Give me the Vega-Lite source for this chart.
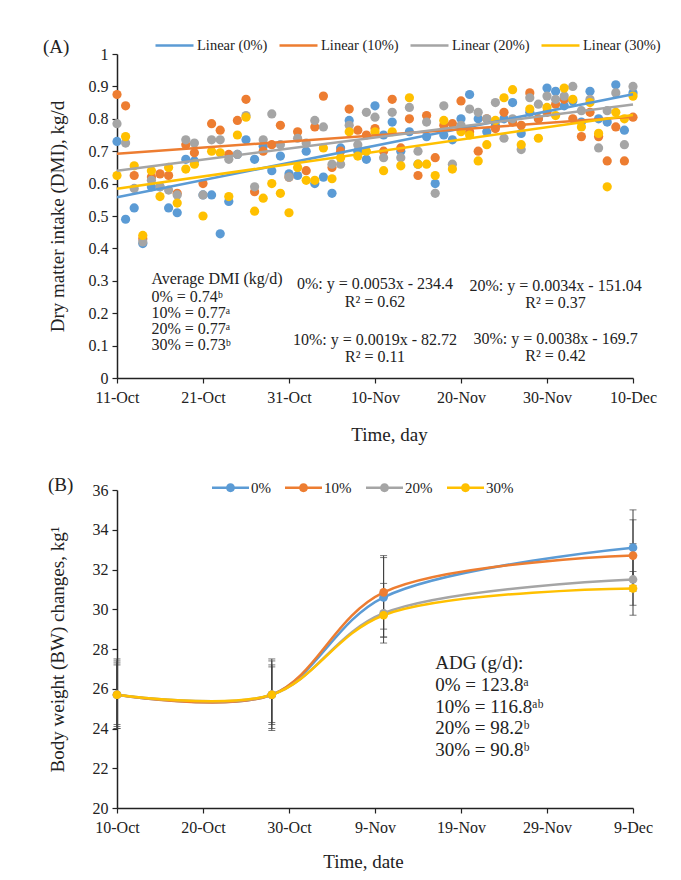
{
  "$schema": "https://vega.github.io/schema/vega-lite/v6.json",
  "background": "white",
  "padding": {"left": 43, "top": 25, "right": 10, "bottom": 5},
  "spacing": 25,
  "config": {
    "font": "Liberation Serif",
    "view": {"stroke": null},
    "axis": {"domainColor": "#222", "domainWidth": 1.5, "tickColor": "#222", "tickWidth": 1.2, "tickSize": 5, "labelFont": "Liberation Serif", "labelFontSize": 16, "labelColor": "#222", "titleFont": "Liberation Serif", "titleFontSize": 19, "titleFontWeight": "normal", "titleColor": "#222", "grid": false, "labelFlush": false},
    "legend": {"labelFont": "Liberation Serif", "labelColor": "#222"},
    "title": {"font": "Liberation Serif", "fontWeight": "normal", "fontSize": 19, "color": "#222"},
    "text": {"font": "Liberation Serif", "color": "#222"}
  },
  "resolve": {"scale": {"color": "independent", "fill": "independent", "stroke": "independent"}, "legend": {"color": "independent", "fill": "independent", "stroke": "independent"}},
  "datasets": {
    "dmi": [
      {"date":"2020-10-11","group":"0%","dmi":0.73},{"date":"2020-10-12","group":"0%","dmi":0.49},{"date":"2020-10-13","group":"0%","dmi":0.525},{"date":"2020-10-14","group":"0%","dmi":0.415},{"date":"2020-10-15","group":"0%","dmi":0.59},{"date":"2020-10-16","group":"0%","dmi":0.59},{"date":"2020-10-17","group":"0%","dmi":0.525},{"date":"2020-10-18","group":"0%","dmi":0.51},{"date":"2020-10-19","group":"0%","dmi":0.675},{"date":"2020-10-20","group":"0%","dmi":0.67},
      {"date":"2020-10-21","group":"0%","dmi":0.565},{"date":"2020-10-22","group":"0%","dmi":0.565},{"date":"2020-10-23","group":"0%","dmi":0.445},{"date":"2020-10-24","group":"0%","dmi":0.545},{"date":"2020-10-25","group":"0%","dmi":0.69},{"date":"2020-10-26","group":"0%","dmi":0.735},{"date":"2020-10-27","group":"0%","dmi":0.675},{"date":"2020-10-28","group":"0%","dmi":0.715},{"date":"2020-10-29","group":"0%","dmi":0.64},{"date":"2020-10-30","group":"0%","dmi":0.685},
      {"date":"2020-10-31","group":"0%","dmi":0.63},{"date":"2020-11-01","group":"0%","dmi":0.625},{"date":"2020-11-02","group":"0%","dmi":0.7},{"date":"2020-11-03","group":"0%","dmi":0.6},{"date":"2020-11-04","group":"0%","dmi":0.62},{"date":"2020-11-05","group":"0%","dmi":0.57},{"date":"2020-11-06","group":"0%","dmi":0.71},{"date":"2020-11-07","group":"0%","dmi":0.795},{"date":"2020-11-08","group":"0%","dmi":0.7},{"date":"2020-11-09","group":"0%","dmi":0.675},
      {"date":"2020-11-10","group":"0%","dmi":0.84},{"date":"2020-11-11","group":"0%","dmi":0.75},{"date":"2020-11-12","group":"0%","dmi":0.79},{"date":"2020-11-13","group":"0%","dmi":0.7},{"date":"2020-11-14","group":"0%","dmi":0.76},{"date":"2020-11-15","group":"0%","dmi":0.66},{"date":"2020-11-16","group":"0%","dmi":0.745},{"date":"2020-11-17","group":"0%","dmi":0.6},{"date":"2020-11-18","group":"0%","dmi":0.75},{"date":"2020-11-19","group":"0%","dmi":0.735},
      {"date":"2020-11-20","group":"0%","dmi":0.8},{"date":"2020-11-21","group":"0%","dmi":0.875},{"date":"2020-11-22","group":"0%","dmi":0.8},{"date":"2020-11-23","group":"0%","dmi":0.76},{"date":"2020-11-24","group":"0%","dmi":0.78},{"date":"2020-11-25","group":"0%","dmi":0.8},{"date":"2020-11-26","group":"0%","dmi":0.85},{"date":"2020-11-27","group":"0%","dmi":0.755},{"date":"2020-11-28","group":"0%","dmi":0.82},{"date":"2020-11-29","group":"0%","dmi":0.8},
      {"date":"2020-11-30","group":"0%","dmi":0.895},{"date":"2020-12-01","group":"0%","dmi":0.885},{"date":"2020-12-02","group":"0%","dmi":0.84},{"date":"2020-12-03","group":"0%","dmi":0.855},{"date":"2020-12-04","group":"0%","dmi":0.79},{"date":"2020-12-05","group":"0%","dmi":0.885},{"date":"2020-12-06","group":"0%","dmi":0.8},{"date":"2020-12-07","group":"0%","dmi":0.79},{"date":"2020-12-08","group":"0%","dmi":0.905},{"date":"2020-12-09","group":"0%","dmi":0.765},{"date":"2020-12-10","group":"0%","dmi":0.88},

      {"date":"2020-10-11","group":"10%","dmi":0.875},{"date":"2020-10-12","group":"10%","dmi":0.84},{"date":"2020-10-13","group":"10%","dmi":0.625},{"date":"2020-10-14","group":"10%","dmi":0.43},{"date":"2020-10-15","group":"10%","dmi":0.62},{"date":"2020-10-16","group":"10%","dmi":0.63},{"date":"2020-10-17","group":"10%","dmi":0.625},{"date":"2020-10-18","group":"10%","dmi":0.57},{"date":"2020-10-19","group":"10%","dmi":0.72},{"date":"2020-10-20","group":"10%","dmi":0.695},
      {"date":"2020-10-21","group":"10%","dmi":0.6},{"date":"2020-10-22","group":"10%","dmi":0.785},{"date":"2020-10-23","group":"10%","dmi":0.765},{"date":"2020-10-24","group":"10%","dmi":0.69},{"date":"2020-10-25","group":"10%","dmi":0.795},{"date":"2020-10-26","group":"10%","dmi":0.86},{"date":"2020-10-27","group":"10%","dmi":0.575},{"date":"2020-10-28","group":"10%","dmi":0.7},{"date":"2020-10-29","group":"10%","dmi":0.72},{"date":"2020-10-30","group":"10%","dmi":0.78},
      {"date":"2020-10-31","group":"10%","dmi":0.62},{"date":"2020-11-01","group":"10%","dmi":0.76},{"date":"2020-11-02","group":"10%","dmi":0.64},{"date":"2020-11-03","group":"10%","dmi":0.775},{"date":"2020-11-04","group":"10%","dmi":0.87},{"date":"2020-11-05","group":"10%","dmi":0.65},{"date":"2020-11-06","group":"10%","dmi":0.7},{"date":"2020-11-07","group":"10%","dmi":0.83},{"date":"2020-11-08","group":"10%","dmi":0.765},{"date":"2020-11-09","group":"10%","dmi":0.75},
      {"date":"2020-11-10","group":"10%","dmi":0.77},{"date":"2020-11-11","group":"10%","dmi":0.7},{"date":"2020-11-12","group":"10%","dmi":0.86},{"date":"2020-11-13","group":"10%","dmi":0.71},{"date":"2020-11-14","group":"10%","dmi":0.8},{"date":"2020-11-15","group":"10%","dmi":0.625},{"date":"2020-11-16","group":"10%","dmi":0.81},{"date":"2020-11-17","group":"10%","dmi":0.68},{"date":"2020-11-18","group":"10%","dmi":0.78},{"date":"2020-11-19","group":"10%","dmi":0.785},
      {"date":"2020-11-20","group":"10%","dmi":0.855},{"date":"2020-11-21","group":"10%","dmi":0.76},{"date":"2020-11-22","group":"10%","dmi":0.7},{"date":"2020-11-23","group":"10%","dmi":0.8},{"date":"2020-11-24","group":"10%","dmi":0.77},{"date":"2020-11-25","group":"10%","dmi":0.82},{"date":"2020-11-26","group":"10%","dmi":0.79},{"date":"2020-11-27","group":"10%","dmi":0.78},{"date":"2020-11-28","group":"10%","dmi":0.88},{"date":"2020-11-29","group":"10%","dmi":0.8},
      {"date":"2020-11-30","group":"10%","dmi":0.82},{"date":"2020-12-01","group":"10%","dmi":0.845},{"date":"2020-12-02","group":"10%","dmi":0.86},{"date":"2020-12-03","group":"10%","dmi":0.8},{"date":"2020-12-04","group":"10%","dmi":0.745},{"date":"2020-12-05","group":"10%","dmi":0.82},{"date":"2020-12-06","group":"10%","dmi":0.745},{"date":"2020-12-07","group":"10%","dmi":0.67},{"date":"2020-12-08","group":"10%","dmi":0.775},{"date":"2020-12-09","group":"10%","dmi":0.67},{"date":"2020-12-10","group":"10%","dmi":0.805},

      {"date":"2020-10-11","group":"20%","dmi":0.785},{"date":"2020-10-12","group":"20%","dmi":0.725},{"date":"2020-10-13","group":"20%","dmi":0.585},{"date":"2020-10-14","group":"20%","dmi":0.42},{"date":"2020-10-15","group":"20%","dmi":0.61},{"date":"2020-10-16","group":"20%","dmi":0.59},{"date":"2020-10-17","group":"20%","dmi":0.58},{"date":"2020-10-18","group":"20%","dmi":0.565},{"date":"2020-10-19","group":"20%","dmi":0.735},{"date":"2020-10-20","group":"20%","dmi":0.725},
      {"date":"2020-10-21","group":"20%","dmi":0.565},{"date":"2020-10-22","group":"20%","dmi":0.735},{"date":"2020-10-23","group":"20%","dmi":0.735},{"date":"2020-10-24","group":"20%","dmi":0.675},{"date":"2020-10-25","group":"20%","dmi":0.69},{"date":"2020-10-26","group":"20%","dmi":0.81},{"date":"2020-10-27","group":"20%","dmi":0.59},{"date":"2020-10-28","group":"20%","dmi":0.735},{"date":"2020-10-29","group":"20%","dmi":0.815},{"date":"2020-10-30","group":"20%","dmi":0.72},
      {"date":"2020-10-31","group":"20%","dmi":0.62},{"date":"2020-11-01","group":"20%","dmi":0.74},{"date":"2020-11-02","group":"20%","dmi":0.725},{"date":"2020-11-03","group":"20%","dmi":0.795},{"date":"2020-11-04","group":"20%","dmi":0.775},{"date":"2020-11-05","group":"20%","dmi":0.66},{"date":"2020-11-06","group":"20%","dmi":0.66},{"date":"2020-11-07","group":"20%","dmi":0.78},{"date":"2020-11-08","group":"20%","dmi":0.72},{"date":"2020-11-09","group":"20%","dmi":0.82},
      {"date":"2020-11-10","group":"20%","dmi":0.805},{"date":"2020-11-11","group":"20%","dmi":0.68},{"date":"2020-11-12","group":"20%","dmi":0.82},{"date":"2020-11-13","group":"20%","dmi":0.68},{"date":"2020-11-14","group":"20%","dmi":0.835},{"date":"2020-11-15","group":"20%","dmi":0.7},{"date":"2020-11-16","group":"20%","dmi":0.79},{"date":"2020-11-17","group":"20%","dmi":0.57},{"date":"2020-11-18","group":"20%","dmi":0.84},{"date":"2020-11-19","group":"20%","dmi":0.66},
      {"date":"2020-11-20","group":"20%","dmi":0.78},{"date":"2020-11-21","group":"20%","dmi":0.83},{"date":"2020-11-22","group":"20%","dmi":0.82},{"date":"2020-11-23","group":"20%","dmi":0.8},{"date":"2020-11-24","group":"20%","dmi":0.85},{"date":"2020-11-25","group":"20%","dmi":0.74},{"date":"2020-11-26","group":"20%","dmi":0.8},{"date":"2020-11-27","group":"20%","dmi":0.705},{"date":"2020-11-28","group":"20%","dmi":0.865},{"date":"2020-11-29","group":"20%","dmi":0.845},
      {"date":"2020-11-30","group":"20%","dmi":0.87},{"date":"2020-12-01","group":"20%","dmi":0.86},{"date":"2020-12-02","group":"20%","dmi":0.87},{"date":"2020-12-03","group":"20%","dmi":0.9},{"date":"2020-12-04","group":"20%","dmi":0.825},{"date":"2020-12-05","group":"20%","dmi":0.86},{"date":"2020-12-06","group":"20%","dmi":0.71},{"date":"2020-12-07","group":"20%","dmi":0.825},{"date":"2020-12-08","group":"20%","dmi":0.88},{"date":"2020-12-09","group":"20%","dmi":0.72},{"date":"2020-12-10","group":"20%","dmi":0.9},

      {"date":"2020-10-11","group":"30%","dmi":0.625},{"date":"2020-10-12","group":"30%","dmi":0.745},{"date":"2020-10-13","group":"30%","dmi":0.655},{"date":"2020-10-14","group":"30%","dmi":0.44},{"date":"2020-10-15","group":"30%","dmi":0.64},{"date":"2020-10-16","group":"30%","dmi":0.56},{"date":"2020-10-17","group":"30%","dmi":0.65},{"date":"2020-10-18","group":"30%","dmi":0.54},{"date":"2020-10-19","group":"30%","dmi":0.645},{"date":"2020-10-20","group":"30%","dmi":0.66},
      {"date":"2020-10-21","group":"30%","dmi":0.5},{"date":"2020-10-22","group":"30%","dmi":0.7},{"date":"2020-10-23","group":"30%","dmi":0.695},{"date":"2020-10-24","group":"30%","dmi":0.56},{"date":"2020-10-25","group":"30%","dmi":0.75},{"date":"2020-10-26","group":"30%","dmi":0.805},{"date":"2020-10-27","group":"30%","dmi":0.515},{"date":"2020-10-28","group":"30%","dmi":0.555},{"date":"2020-10-29","group":"30%","dmi":0.6},{"date":"2020-10-30","group":"30%","dmi":0.57},
      {"date":"2020-10-31","group":"30%","dmi":0.51},{"date":"2020-11-01","group":"30%","dmi":0.65},{"date":"2020-11-02","group":"30%","dmi":0.61},{"date":"2020-11-03","group":"30%","dmi":0.61},{"date":"2020-11-04","group":"30%","dmi":0.71},{"date":"2020-11-05","group":"30%","dmi":0.615},{"date":"2020-11-06","group":"30%","dmi":0.68},{"date":"2020-11-07","group":"30%","dmi":0.76},{"date":"2020-11-08","group":"30%","dmi":0.685},{"date":"2020-11-09","group":"30%","dmi":0.7},
      {"date":"2020-11-10","group":"30%","dmi":0.76},{"date":"2020-11-11","group":"30%","dmi":0.64},{"date":"2020-11-12","group":"30%","dmi":0.76},{"date":"2020-11-13","group":"30%","dmi":0.655},{"date":"2020-11-14","group":"30%","dmi":0.865},{"date":"2020-11-15","group":"30%","dmi":0.66},{"date":"2020-11-16","group":"30%","dmi":0.66},{"date":"2020-11-17","group":"30%","dmi":0.625},{"date":"2020-11-18","group":"30%","dmi":0.795},{"date":"2020-11-19","group":"30%","dmi":0.645},
      {"date":"2020-11-20","group":"30%","dmi":0.76},{"date":"2020-11-21","group":"30%","dmi":0.75},{"date":"2020-11-22","group":"30%","dmi":0.67},{"date":"2020-11-23","group":"30%","dmi":0.72},{"date":"2020-11-24","group":"30%","dmi":0.795},{"date":"2020-11-25","group":"30%","dmi":0.865},{"date":"2020-11-26","group":"30%","dmi":0.89},{"date":"2020-11-27","group":"30%","dmi":0.72},{"date":"2020-11-28","group":"30%","dmi":0.83},{"date":"2020-11-29","group":"30%","dmi":0.74},
      {"date":"2020-11-30","group":"30%","dmi":0.835},{"date":"2020-12-01","group":"30%","dmi":0.81},{"date":"2020-12-02","group":"30%","dmi":0.895},{"date":"2020-12-03","group":"30%","dmi":0.86},{"date":"2020-12-04","group":"30%","dmi":0.775},{"date":"2020-12-05","group":"30%","dmi":0.85},{"date":"2020-12-06","group":"30%","dmi":0.755},{"date":"2020-12-07","group":"30%","dmi":0.59},{"date":"2020-12-08","group":"30%","dmi":0.82},{"date":"2020-12-09","group":"30%","dmi":0.8},{"date":"2020-12-10","group":"30%","dmi":0.87}
    ],
    "trend": [
      {"date":"2020-10-11","series":"Linear (0%)","dmi":0.558},{"date":"2020-12-10","series":"Linear (0%)","dmi":0.876},
      {"date":"2020-10-11","series":"Linear (10%)","dmi":0.692},{"date":"2020-12-10","series":"Linear (10%)","dmi":0.806},
      {"date":"2020-10-11","series":"Linear (20%)","dmi":0.64},{"date":"2020-12-10","series":"Linear (20%)","dmi":0.844},
      {"date":"2020-10-11","series":"Linear (30%)","dmi":0.584},{"date":"2020-12-10","series":"Linear (30%)","dmi":0.812}
    ],
    "avgText": [
      {"date":"2020-10-15","y":0.307,"label":"Average DMI (kg/d)"},
      {"date":"2020-10-15","y":0.251,"label":" 0% =  0.74ᵇ"},
      {"date":"2020-10-15","y":0.201,"label":"10% = 0.77ᵃ"},
      {"date":"2020-10-15","y":0.152,"label":"20% = 0.77ᵃ"},
      {"date":"2020-10-15","y":0.102,"label":"30% = 0.73ᵇ"}
    ],
    "eqText": [
      {"date":"2020-11-10","y":0.289,"label":"0%: y = 0.0053x - 234.4"},
      {"date":"2020-11-10","y":0.236,"label":"R² = 0.62"},
      {"date":"2020-12-01","y":0.283,"label":"20%: y = 0.0034x - 151.04"},
      {"date":"2020-12-01","y":0.23,"label":"R² = 0.37"},
      {"date":"2020-11-10","y":0.118,"label":"10%: y = 0.0019x - 82.72"},
      {"date":"2020-11-10","y":0.064,"label":"R² = 0.11"},
      {"date":"2020-12-01","y":0.121,"label":"30%: y = 0.0038x - 169.7"},
      {"date":"2020-12-01","y":0.067,"label":"R² = 0.42"}
    ],
    "bw": [
      {"date":"2020-10-10","group":"0%","bw":25.7,"lo":24.1,"hi":27.3},
      {"date":"2020-10-28","group":"0%","bw":25.7,"lo":24.0,"hi":27.4},
      {"date":"2020-11-10","group":"0%","bw":30.6,"lo":28.6,"hi":32.6},
      {"date":"2020-12-09","group":"0%","bw":33.1,"lo":31.2,"hi":35.0},
      {"date":"2020-10-10","group":"10%","bw":25.7,"lo":24.0,"hi":27.4},
      {"date":"2020-10-28","group":"10%","bw":25.7,"lo":24.2,"hi":27.2},
      {"date":"2020-11-10","group":"10%","bw":30.85,"lo":29.0,"hi":32.7},
      {"date":"2020-12-09","group":"10%","bw":32.7,"lo":30.9,"hi":34.5},
      {"date":"2020-10-10","group":"20%","bw":25.7,"lo":24.2,"hi":27.2},
      {"date":"2020-10-28","group":"20%","bw":25.7,"lo":23.9,"hi":27.5},
      {"date":"2020-11-10","group":"20%","bw":29.8,"lo":28.3,"hi":31.3},
      {"date":"2020-12-09","group":"20%","bw":31.5,"lo":29.7,"hi":33.3},
      {"date":"2020-10-10","group":"30%","bw":25.7,"lo":24.0,"hi":27.5},
      {"date":"2020-10-28","group":"30%","bw":25.7,"lo":24.3,"hi":27.1},
      {"date":"2020-11-10","group":"30%","bw":29.7,"lo":28.6,"hi":30.8},
      {"date":"2020-12-09","group":"30%","bw":31.05,"lo":30.2,"hi":31.9}
    ],
    "adgText": [
      {"date":"2020-11-16","y":27.3,"label":"ADG (g/d):"},
      {"date":"2020-11-16","y":26.19,"label":" 0% =  123.8ᵃ"},
      {"date":"2020-11-16","y":25.08,"label":"10% = 116.8ᵃᵇ"},
      {"date":"2020-11-16","y":24.03,"label":"20% =  98.2ᵇ"},
      {"date":"2020-11-16","y":22.92,"label":"30% =  90.8ᵇ"}
    ]
  },
  "vconcat": [
    {
      "width": 516,
      "height": 324,
      "title": {"text": "(A)", "anchor": "start", "frame": "bounds", "offset": -32, "dx": -5},
      "encoding": {
        "x": {"field": "date", "type": "temporal",
              "scale": {"type": "utc", "domain": [{"year": 2020, "month": 10, "date": 11, "utc": true}, {"year": 2020, "month": 12, "date": 10, "utc": true}], "nice": false},
              "axis": {"title": "Time, day", "titleX": 272, "titlePadding": 20, "labelPadding": 6,
                       "values": [{"year": 2020, "month": 10, "date": 11, "utc": true}, {"year": 2020, "month": 10, "date": 21, "utc": true}, {"year": 2020, "month": 10, "date": 31, "utc": true}, {"year": 2020, "month": 11, "date": 10, "utc": true}, {"year": 2020, "month": 11, "date": 20, "utc": true}, {"year": 2020, "month": 11, "date": 30, "utc": true}, {"year": 2020, "month": 12, "date": 10, "utc": true}],
                       "labelExpr": "utcFormat(datum.value, '%-d-%b')"}},
        "y": {"field": "dmi", "type": "quantitative",
              "scale": {"domain": [0, 1], "nice": false, "zero": true},
              "axis": {"title": "Dry matter intake (DMI), kg/d", "titlePadding": 21, "labelPadding": 4, "values": [0, 0.1, 0.2, 0.3, 0.4, 0.5, 0.6, 0.7, 0.8, 0.9, 1], "format": "~g"}}
      },
      "layer": [
        {
          "data": {"name": "dmi"},
          "mark": {"type": "circle", "size": 85, "opacity": 1},
          "encoding": {
            "fill": {"field": "group", "type": "nominal", "scale": {"domain": ["0%", "10%", "20%", "30%"], "range": ["#5B9BD5", "#ED7D31", "#A5A5A5", "#FFC000"]}, "legend": null}
          }
        },
        {
          "data": {"name": "trend"},
          "mark": {"type": "line", "strokeWidth": 2.5},
          "encoding": {
            "stroke": {"field": "series", "type": "nominal", "scale": {"domain": ["Linear (0%)", "Linear (10%)", "Linear (20%)", "Linear (30%)"], "range": ["#5B9BD5", "#ED7D31", "#A5A5A5", "#FFC000"]},
                       "legend": {"title": null, "orient": "none", "direction": "horizontal", "legendX": 37, "legendY": -29, "symbolType": "stroke", "symbolSize": 1444, "symbolStrokeWidth": 2.5, "labelFontSize": 14.5, "labelOffset": 2, "columnPadding": 6, "gridAlign": "none"}}
          }
        },
        {
          "data": {"name": "avgText"},
          "mark": {"type": "text", "align": "left", "baseline": "middle", "fontSize": 16},
          "encoding": {"y": {"field": "y", "type": "quantitative"}, "text": {"field": "label"}}
        },
        {
          "data": {"name": "eqText"},
          "mark": {"type": "text", "align": "center", "baseline": "middle", "fontSize": 16},
          "encoding": {"y": {"field": "y", "type": "quantitative"}, "text": {"field": "label"}}
        }
      ]
    },
    {
      "width": 516,
      "height": 318,
      "title": {"text": "(B)", "anchor": "start", "frame": "bounds", "offset": -25.5, "dx": 0},
      "encoding": {
        "x": {"field": "date", "type": "temporal",
              "scale": {"type": "utc", "domain": [{"year": 2020, "month": 10, "date": 10, "utc": true}, {"year": 2020, "month": 12, "date": 9, "utc": true}], "nice": false},
              "axis": {"title": "Time, date", "titleX": 246, "titlePadding": 17, "labelPadding": 6,
                       "values": [{"year": 2020, "month": 10, "date": 10, "utc": true}, {"year": 2020, "month": 10, "date": 20, "utc": true}, {"year": 2020, "month": 10, "date": 30, "utc": true}, {"year": 2020, "month": 11, "date": 9, "utc": true}, {"year": 2020, "month": 11, "date": 19, "utc": true}, {"year": 2020, "month": 11, "date": 29, "utc": true}, {"year": 2020, "month": 12, "date": 9, "utc": true}],
                       "labelExpr": "utcFormat(datum.value, '%-d-%b')"}},
        "y": {"field": "bw", "type": "quantitative",
              "scale": {"domain": [20, 36], "nice": false, "zero": false},
              "axis": {"title": "Body weight (BW) changes, kg¹", "titlePadding": 25, "labelPadding": 4, "values": [20, 22, 24, 26, 28, 30, 32, 34, 36], "format": "d"}}
      },
      "layer": [
        {
          "data": {"name": "bw"},
          "mark": {"type": "line", "strokeWidth": 2.5, "interpolate": "catmull-rom"},
          "encoding": {
            "stroke": {"field": "group", "type": "nominal", "scale": {"domain": ["0%", "10%", "20%", "30%"], "range": ["#5B9BD5", "#ED7D31", "#A5A5A5", "#FFC000"]},
                       "legend": {"title": null, "orient": "none", "direction": "horizontal", "legendX": 95, "legendY": -21, "symbolType": "M-1,-0.068H1V0.068H-1Z M0.24,0A0.24,0.24,0,1,1,-0.24,0A0.24,0.24,0,1,1,0.24,0Z", "symbolSize": 1369, "symbolStrokeWidth": 0, "labelFontSize": 15, "labelOffset": 2, "columnPadding": 14,
                                  "encode": {"symbols": {"update": {"fill": {"signal": "{'0%':'#5B9BD5','10%':'#ED7D31','20%':'#A5A5A5','30%':'#FFC000'}[datum.value]"}, "stroke": {"value": "transparent"}}}}}}
          }
        },
        {
          "data": {"name": "bw"},
          "mark": {"type": "rule", "color": "#404040", "strokeWidth": 1},
          "encoding": {"y": {"field": "lo", "type": "quantitative"}, "y2": {"field": "hi"}}
        },
        {
          "data": {"name": "bw"},
          "mark": {"type": "tick", "orient": "horizontal", "color": "#404040", "size": 7, "thickness": 1},
          "encoding": {"y": {"field": "lo", "type": "quantitative"}}
        },
        {
          "data": {"name": "bw"},
          "mark": {"type": "tick", "orient": "horizontal", "color": "#404040", "size": 7, "thickness": 1},
          "encoding": {"y": {"field": "hi", "type": "quantitative"}}
        },
        {
          "data": {"name": "bw"},
          "mark": {"type": "circle", "size": 75, "opacity": 1},
          "encoding": {
            "fill": {"field": "group", "type": "nominal", "scale": {"domain": ["0%", "10%", "20%", "30%"], "range": ["#5B9BD5", "#ED7D31", "#A5A5A5", "#FFC000"]},
                     "legend": {"title": null, "orient": "none", "direction": "horizontal", "legendX": 95, "legendY": -21, "symbolType": "M-1,-0.068H1V0.068H-1Z M0.24,0A0.24,0.24,0,1,1,-0.24,0A0.24,0.24,0,1,1,0.24,0Z", "symbolSize": 1369, "symbolStrokeWidth": 0, "labelFontSize": 15, "labelOffset": 2, "columnPadding": 14,
                                "encode": {"symbols": {"update": {"fill": {"signal": "{'0%':'#5B9BD5','10%':'#ED7D31','20%':'#A5A5A5','30%':'#FFC000'}[datum.value]"}, "stroke": {"value": "transparent"}}}}}}
          }
        },
        {
          "data": {"name": "adgText"},
          "mark": {"type": "text", "align": "left", "baseline": "middle", "fontSize": 19},
          "encoding": {"y": {"field": "y", "type": "quantitative"}, "text": {"field": "label"}}
        }
      ]
    }
  ]
}
